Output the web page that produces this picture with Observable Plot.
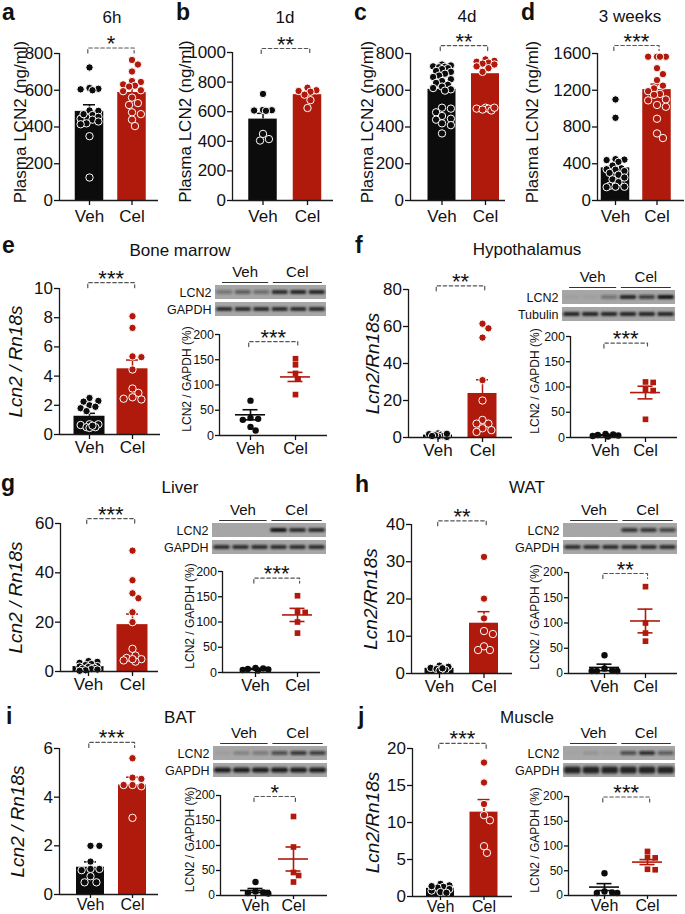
<!DOCTYPE html>
<html><head><meta charset="utf-8">
<script src="https://cdn.jsdelivr.net/npm/d3@7"></script>
<script src="https://cdn.jsdelivr.net/npm/@observablehq/plot@0.6"></script>
<style>
body{margin:0;background:#fff;}
#fig{position:relative;width:685px;height:914px;overflow:hidden;font-family:"Liberation Sans",Arial,sans-serif;color:#111;background:#fff;}
#fig svg{position:absolute;overflow:visible;}
.letter{position:absolute;font-weight:bold;font-size:23px;line-height:1;}
.title{position:absolute;transform:translate(-50%,-50%);font-size:17px;white-space:nowrap;line-height:1;}
</style></head><body><div id="fig"></div>
<script>
// ================= DATA =================
const groups = ["Veh", "Cel"];
const panelTitles = ["6h", "1d", "4d", "3 weeks", "Bone marrow", "Hypothalamus", "Liver", "WAT", "BAT", "Muscle"];
const panelLetters = ["a", "b", "c", "d", "e", "f", "g", "h", "i", "j"];

// a: 6h plasma LCN2 (ng/ml)
const aTicks = [0, 200, 400, 600, 800];
const aVeh = [724, 612, 608, 600, 605, 490, 488, 465, 455, 450, 445, 440, 430, 420, 415, 350, 125, 470];
const aCel = [765, 740, 702, 650, 645, 632, 625, 620, 600, 595, 560, 530, 520, 480, 470, 440, 405];
const aMean = [485, 588], aSem = [36, 25];
// b: 1d
const bTicks = [0, 200, 400, 600, 800, 1000];
const bVeh = [720, 612, 610, 608, 606, 450, 405, 415];
const bCel = [762, 745, 740, 735, 715, 678, 625];
const bMean = [550, 715], bSem = [39, 18];
// c: 4d
const cTicks = [0, 200, 400, 600, 800];
const cVeh = [740, 735, 730, 728, 725, 720, 715, 705, 700, 690, 680, 672, 660, 650, 640, 630, 620, 612, 605, 598, 505, 500, 480, 460, 445, 440, 420, 410, 365];
const cCel = [768, 760, 755, 750, 745, 740, 730, 720, 700, 505, 500, 500, 495, 490, 505];
const cMean = [605, 690], cSem = [18, 25];
// d: 3 weeks
const dTicks = [0, 400, 800, 1200, 1600];
const dVeh = [1100, 900, 445, 440, 450, 420, 380, 350, 340, 335, 320, 300, 280, 250, 230, 200, 160, 150, 150, 145];
const dCel = [1565, 1565, 1565, 1565, 1440, 1375, 1310, 1250, 1220, 1190, 1160, 1150, 1100, 1090, 1040, 1020, 890, 730, 680];
const dMean = [355, 1207], dSem = [50, 60];

// e: bone marrow
const eTicks = [0, 2, 4, 6, 8, 10];
const eVeh = [2.5, 2.3, 2.25, 2.0, 1.9, 1.8, 1.6, 0.7, 0.65, 0.7, 0.5, 0.45, 0.5, 0.6];
const eCel = [8.1, 7.3, 5.35, 5.3, 4.45, 3.15, 2.85, 2.55, 2.45, 2.4];
const eMean = [1.25, 4.5], eSem = [0.2, 0.6];
const dotTicks = [0, 50, 100, 150, 200];
const eWbVeh = [69, 35, 33, 31, 17, 10];
const eWbCel = [152, 140, 123, 112, 81];
const eWbMean = [41, 116], eWbSem = [10, 9];
const eBlotLCN2 = [0.35, 0.5, 0.4, 0.85, 0.9, 0.9];
const eBlotRef = [0.85, 0.85, 0.85, 0.85, 0.85, 0.85];

// f: hypothalamus
const fTicks = [0, 20, 40, 60, 80];
const fVeh = [1.8, 2.2, 1.5, 1.0, 0.6, 0.3, 1.2, 2.0, 0.8];
const fCel = [61.5, 59, 54, 31, 20, 9.5, 7.5, 7.5, 5, 4, 3];
const fMean = [1.3, 23.8], fSem = [0.3, 7.4];
const fWbVeh = [7, 6, 5, 4, 3, 2];
const fWbCel = [110, 109, 95, 93, 36];
const fWbMean = [4.5, 89], fWbSem = [1, 12.5];
const fBlotLCN2 = [0.04, 0.04, 0.35, 0.9, 0.7, 1.0];
const fBlotRef = [0.9, 0.9, 0.9, 0.9, 0.9, 0.9];

// g: liver
const gTicks = [0, 20, 40, 60];
const gVeh = [4.2, 3.9, 3.5, 3.0, 2.6, 2.2, 2.0, 1.8, 1.5, 1.2, 1.0, 0.8, 0.5, 0.3];
const gCel = [49, 37, 31.7, 29.7, 24, 20, 9.2, 6.5, 5.5, 5, 4.5, 4, 5];
const gMean = [2, 19], gSem = [0.35, 4.3];
const gWbVeh = [9, 8, 7, 6, 4, 5];
const gWbCel = [152, 120, 119, 100, 78];
const gWbMean = [7, 114], gWbSem = [1, 13];
const gBlotLCN2 = [0, 0, 0, 1.0, 0.85, 0.85];
const gBlotRef = [0.8, 0.8, 0.8, 0.8, 0.8, 0.8];

// h: WAT
const hTicks = [0, 10, 20, 30, 40];
const hVeh = [2.1, 1.8, 1.5, 1.2, 1.0, 0.8, 1.4];
const hCel = [31.3, 20.1, 14.8, 11.4, 10.6, 7.3, 6.3, 6.3];
const hMean = [1.4, 13.5], hSem = [0.2, 3.1];
const hWbVeh = [36, 10, 5, 5, 5, 6];
const hWbCel = [172, 100, 80, 64];
const hWbMean = [12, 104], hWbSem = [6.5, 23.5];
const hBlotLCN2 = [0, 0, 0, 0.75, 0.75, 0.65];
const hBlotRef = [0.8, 0.8, 0.8, 0.8, 0.8, 0.8];

// i: BAT
const iTicks = [0, 2, 4, 6];
const iVeh = [2.0, 2.0, 1.35, 1.05, 1.0, 0.75, 1.05, 0.5, 0.5];
const iCel = [5.6, 4.8, 4.75, 4.5, 4.5, 4.45, 3.15];
const iMean = [1.12, 4.5], iSem = [0.22, 0.32];
const iWbVeh = [27, 8, 6, 5, 4];
const iWbCel = [158, 97, 46, 40, 27];
const iWbMean = [10, 73], iWbSem = [4, 24];
const iBlotLCN2 = [0.05, 0.2, 0.25, 0.6, 0.75, 0.7];
const iBlotRef = [0.95, 0.95, 0.95, 0.95, 0.95, 0.95];

// j: muscle
const jTicks = [0, 5, 10, 15, 20];
const jVeh = [1.7, 1.5, 1.3, 1.2, 1.0, 0.8, 0.6, 0.5, 1.4];
const jCel = [18.1, 15.4, 12.5, 11, 10.3, 6.8, 5.9];
const jMean = [1.1, 11.4], jSem = [0.15, 1.7];
const jWbVeh = [45, 8, 6, 5, 5];
const jWbCel = [89, 77, 76, 53, 52];
const jWbMean = [17, 67.5], jWbSem = [7, 5];
const jBlotLCN2 = [0.02, 0.1, 0.05, 0.6, 0.8, 0.5];
const jBlotRef = [0.9, 0.9, 0.9, 0.9, 0.9, 0.9];

// significance labels (bar panels a–j, then blot quantification e–j)
const barStars = ["*", "**", "**", "***", "***", "**", "***", "**", "***", "***"];
const wbStars = ["***", "***", "***", "**", "*", "***"];

// ================= RENDERING =================
const FONT = '"Liberation Sans", Arial, sans-serif';
const BLACK = "#0c0c0c", RED = "#b01a0c", AX = "#1a1a1a";
const fig = document.getElementById("fig");

function swarm(vals, pxY, r, maxOff) {
  const order = vals.map((_, i) => i).sort((a, b) => vals[b] - vals[a]);
  const placed = [], off = new Array(vals.length).fill(0);
  const step = r * 0.8, minD = 2 * r * 0.92;
  for (const i of order) {
    const y = vals[i] * pxY;
    let best = 0, bestD = -1;
    for (let k = 0; ; k++) {
      const c = k === 0 ? 0 : (k % 2 ? 1 : -1) * Math.ceil(k / 2) * step;
      if (Math.abs(c) > maxOff) break;
      const d = placed.reduce((m, p) => Math.min(m, Math.hypot(p.x - c, p.y - y)), Infinity);
      if (d >= minD) { best = c; bestD = d; break; }
      if (d > bestD) { best = c; bestD = d; }
    }
    placed.push({x: best, y});
    off[i] = best;
  }
  return off;
}

function chart(p) {
  const isDot = p.kind === "dot";
  const yMax = p.ticks[p.ticks.length - 1];
  const unit = p.cC - p.cV;
  const xDom = [(p.axisX - p.cV) / unit, (p.xEnd - p.cV) / unit];
  const pxY = (p.y0 - p.yTop) / yMax;
  const left = Math.floor(p.labelX - 14), right = p.xEnd + 4;
  const top = p.yTop - 48, bottom = p.y0 + 30;
  const r = isDot ? 3.2 : 3.7;
  const col = g => g === 0 ? BLACK : RED;
  const stats = p.means.map((m, g) => ({g, m, s: p.sems[g]}));
  const marks = [];
  if (!isDot) {
    const hw = p.barW / 2 / unit, cap = 6 / unit;
    stats.forEach(st => {
      const c = col(st.g);
      marks.push(Plot.rect([st], {x1: d => d.g - hw, x2: d => d.g + hw, y1: 0, y2: "m", fill: c}));
      marks.push(Plot.ruleX([st], {x: "g", y1: "m", y2: d => d.m + d.s, stroke: c, strokeWidth: 1.5}));
      marks.push(Plot.ruleY([st], {y: d => d.m + d.s, x1: d => d.g - cap, x2: d => d.g + cap, stroke: c, strokeWidth: 1.5}));
    });
  }
  p.vals.forEach((arr, g) => {
    const off = swarm(arr, pxY, r, isDot ? 15 : p.barW / 2 - r);
    const pts = arr.map((v, k) => ({v, x: g + off[k] / unit}));
    marks.push(Plot.dot(pts, {x: "x", y: "v", r, fill: col(g),
      stroke: isDot ? "none" : "white", strokeWidth: 1,
      symbol: isDot && g === 1 ? "square" : "circle"}));
  });
  if (isDot) {
    const mw = 15 / unit, cw = 7.5 / unit;
    stats.forEach(st => {
      const c = col(st.g);
      marks.push(Plot.ruleY([st], {y: "m", x1: d => d.g - mw, x2: d => d.g + mw, stroke: c, strokeWidth: 1.6}));
      marks.push(Plot.ruleX([st], {x: "g", y1: d => Math.max(0, d.m - d.s), y2: d => d.m + d.s, stroke: c, strokeWidth: 1.6}));
      marks.push(Plot.ruleY([st, st], {y: (d, i) => i ? d.m + d.s : Math.max(0, d.m - d.s), x1: d => d.g - cw, x2: d => d.g + cw, stroke: c, strokeWidth: 1.6}));
    });
  }
  // axes
  marks.push(Plot.ruleY([0], {stroke: AX, strokeWidth: 1.3}));
  marks.push(Plot.ruleX([xDom[0]], {y1: 0, y2: yMax, stroke: AX, strokeWidth: 1.3}));
  marks.push(Plot.axisY({ticks: p.ticks, tickFormat: d => String(d), tickSize: isDot ? 4 : 5, tickPadding: 1.5,
    fontSize: p.tickFont || (isDot ? 12.5 : 17), label: null, strokeWidth: 1.3}));
  marks.push(Plot.axisX({ticks: [0, 1], tickFormat: i => groups[i], tickSize: p.catTick || 5, tickPadding: p.catPad,
    fontSize: p.catFont || (isDot ? 16.5 : 17), label: null, strokeWidth: 1.3}));
  marks.push(Plot.text([p.label], {frameAnchor: "left", textAnchor: "middle", dx: p.labelX - p.axisX, dy: p.labelDy || 0, rotate: -90,
    fontSize: p.labelSize, fontStyle: p.italic ? "italic" : "normal", text: d => d}));
  // significance bracket
  const t = 5 / pxY, bx0 = -0.04, bx1 = 1.05;
  const br = [{x: bx0, y: p.bracket - t}, {x: bx0, y: p.bracket}, {x: bx1, y: p.bracket}, {x: bx1, y: p.bracket - t}];
  marks.push(Plot.line(br, {x: "x", y: "y", stroke: "#555", strokeWidth: 1.2, strokeDasharray: "3.5,2.5"}));
  marks.push(Plot.text([p.stars], {x: (bx0 + bx1) / 2, y: p.bracket, text: d => d, dy: -4, fontSize: 22}));

  const svg = Plot.plot({
    width: right - left, height: bottom - top,
    marginLeft: p.axisX - left, marginRight: right - p.xEnd,
    marginTop: p.yTop - top, marginBottom: bottom - p.y0,
    x: {domain: xDom}, y: {domain: [0, yMax]},
    style: {fontFamily: FONT, color: "#111", background: "none", overflow: "visible"},
    marks
  });
  svg.style.left = left + "px"; svg.style.top = top + "px";
  fig.appendChild(svg);
}

let blotId = 0;
function blot(b) {
  const left = b.x0 - 62, top = b.bottom - 50, right = b.x1 + 2, bottom = b.bottom + 2;
  const n = b.rows[0].lanes.length, half = n / 2;
  const names = b.rows.map(r => r.name);
  const marks = [Plot.barX(names, {x1: 0, x2: n, y: d => d, fill: "#a6a6a6"})];
  b.rows.forEach(row => {
    const data = row.lanes.map((a, lane) => ({lane, a, name: row.name}));
    marks.push(Plot.barX(data, {x1: d => d.lane + 0.06, x2: d => d.lane + 0.94, y: "name",
      fill: "#141414", fillOpacity: "a", insetTop: row.inset, insetBottom: row.inset, rx: 2}));
  });
  marks.push(Plot.text(names, {x: 0, y: d => d, text: d => d, textAnchor: "end", dx: -4, fontSize: 12.5}));
  const hdr = groups.map((name, g) => ({name, a: g * half + (g ? 0.1 : 0.35), b: (g + 1) * half - (g ? 0.25 : 0.15)}));
  marks.push(Plot.text(hdr, {x: d => (d.a + d.b) / 2, y: () => "hdr", text: "name", dy: -3, fontSize: 15}));
  marks.push(Plot.link(hdr, {x1: "a", x2: "b", y1: () => "hdr", y2: () => "hdr", dy: 7, stroke: "#333", strokeWidth: 1.1}));
  const svg = Plot.plot({
    width: right - left, height: bottom - top,
    marginLeft: b.x0 - left, marginRight: right - b.x1, marginTop: 2, marginBottom: 2,
    x: {domain: [0, n], axis: null},
    y: {type: "band", domain: ["hdr", ...names], paddingInner: 0.2, paddingOuter: 0, axis: null},
    opacity: {type: "identity"},
    style: {fontFamily: FONT, color: "#111", background: "none", overflow: "visible"},
    marks
  });
  const id = "blur" + (blotId++);
  const s = d3.select(svg);
  const f = s.insert("defs", ":first-child").append("filter").attr("id", id)
    .attr("x", "-20%").attr("y", "-150%").attr("width", "140%").attr("height", "400%");
  f.append("feGaussianBlur").attr("stdDeviation", 0.8);
  s.selectAll("rect[fill-opacity]").attr("filter", `url(#${id})`);
  svg.style.left = left + "px"; svg.style.top = top + "px";
  fig.appendChild(svg);
}

// ---- layout (pixel geometry only) ----
const plasma = "Plasma LCN2 (ng/ml)", ratioIt = "Lcn2 / Rn18s", ratioIt2 = "Lcn2/Rn18s", wbLab = "LCN2 / GAPDH (%)";
const BAR = (o) => Object.assign({kind: "bar", labelSize: 17, catPad: 1}, o);
const DOT = (o) => Object.assign({kind: "dot", labelSize: 12, catPad: 2, label: wbLab, labelDy: -6}, o);
const LAST = {catPad: 0, catTick: 4, catFont: 16};

[
  BAR({vals: [aVeh, aCel], means: aMean, sems: aSem, ticks: aTicks, stars: barStars[0], bracket: 830, label: plasma, axisX: 59, xEnd: 158, y0: 200, yTop: 53, cV: 89, cC: 131.5, barW: 28.5, labelX: 20, catPad: 4, labelDy: -5}),
  BAR({vals: [bVeh, bCel], means: bMean, sems: bSem, ticks: bTicks, stars: barStars[1], bracket: 1027, label: plasma, axisX: 232, xEnd: 333, y0: 200, yTop: 52, cV: 262.5, cC: 307, barW: 28.5, labelX: 185, catPad: 4, labelDy: -5}),
  BAR({vals: [cVeh, cCel], means: cMean, sems: cSem, ticks: cTicks, stars: barStars[2], bracket: 843, label: plasma, axisX: 410, xEnd: 505, y0: 200, yTop: 53, cV: 441.5, cC: 485, barW: 28, labelX: 367, catPad: 4, labelDy: -5}),
  BAR({vals: [dVeh, dCel], means: dMean, sems: dSem, ticks: dTicks, stars: barStars[3], bracket: 1687, label: plasma, axisX: 597, xEnd: 684, y0: 200, yTop: 53, cV: 615, cC: 656.5, barW: 28.5, labelX: 532, catPad: 4, labelDy: -5}),
  BAR({vals: [eVeh, eCel], means: eMean, sems: eSem, ticks: eTicks, stars: barStars[4], bracket: 10.4, label: ratioIt, italic: true, labelSize: 19, axisX: 59, xEnd: 160, y0: 434, yTop: 288, cV: 89, cC: 132, barW: 31, labelX: 15}),
  DOT({vals: [eWbVeh, eWbCel], means: eWbMean, sems: eWbSem, ticks: dotTicks, stars: wbStars[0], bracket: 186, axisX: 219, xEnd: 327, y0: 435, yTop: 334, cV: 250, cC: 295, labelX: 187}),
  BAR({vals: [fVeh, fCel], means: fMean, sems: fSem, ticks: fTicks, stars: barStars[5], bracket: 82, label: ratioIt2, italic: true, labelSize: 19, axisX: 408, xEnd: 512, y0: 437, yTop: 289, cV: 437.5, cC: 482, barW: 29, labelX: 372}),
  DOT({vals: [fWbVeh, fWbCel], means: fWbMean, sems: fWbSem, ticks: dotTicks, stars: wbStars[1], bracket: 187, axisX: 570, xEnd: 677, y0: 437, yTop: 336, cV: 605, cC: 645, labelX: 535}),
  BAR({vals: [gVeh, gCel], means: gMean, sems: gSem, ticks: gTicks, stars: barStars[6], bracket: 62, label: ratioIt, italic: true, labelSize: 19, axisX: 60, xEnd: 158, y0: 671, yTop: 523, cV: 88, cC: 132, barW: 31, labelX: 15}),
  DOT({vals: [gWbVeh, gWbCel], means: gWbMean, sems: gWbSem, ticks: dotTicks, stars: wbStars[2], bracket: 187, axisX: 222, xEnd: 320, y0: 672, yTop: 571, cV: 255, cC: 297, labelX: 190}),
  BAR({vals: [hVeh, hCel], means: hMean, sems: hSem, ticks: hTicks, stars: barStars[7], bracket: 41, label: ratioIt2, italic: true, labelSize: 19, axisX: 411, xEnd: 512, y0: 673, yTop: 524, cV: 439, cC: 483.5, barW: 29, labelX: 370}),
  DOT({vals: [hWbVeh, hWbCel], means: hWbMean, sems: hWbSem, ticks: dotTicks, stars: wbStars[3], bracket: 198, axisX: 568, xEnd: 677, y0: 673, yTop: 572, cV: 604, cC: 645, labelX: 535, tickFont: 12}),
  BAR(Object.assign({vals: [iVeh, iCel], means: iMean, sems: iSem, ticks: iTicks, stars: barStars[8], bracket: 6.25, label: ratioIt, italic: true, labelSize: 19, axisX: 59, xEnd: 158, y0: 894, yTop: 748, cV: 90, cC: 132, barW: 28, labelX: 17}, LAST)),
  DOT(Object.assign({vals: [iWbVeh, iWbCel], means: iWbMean, sems: iWbSem, ticks: dotTicks, stars: wbStars[4], bracket: 198, axisX: 220, xEnd: 327, y0: 895, yTop: 795, cV: 255, cC: 293, labelX: 190, tickFont: 12}, LAST)),
  BAR(Object.assign({vals: [jVeh, jCel], means: jMean, sems: jSem, ticks: jTicks, stars: barStars[9], bracket: 20.7, label: ratioIt2, italic: true, labelSize: 19, axisX: 412, xEnd: 512, y0: 896, yTop: 748, cV: 440, cC: 483.5, barW: 28, labelX: 372}, LAST)),
  DOT(Object.assign({vals: [jWbVeh, jWbCel], means: jWbMean, sems: jWbSem, ticks: dotTicks, stars: wbStars[5], bracket: 199, axisX: 568, xEnd: 677, y0: 895, yTop: 796, cV: 604, cC: 647, labelX: 535, tickFont: 12}, LAST)),
].forEach(chart);

[
  {x0: 215, x1: 326, bottom: 316, rows: [{name: "LCN2", lanes: eBlotLCN2, inset: 5}, {name: "GAPDH", lanes: eBlotRef, inset: 5}]},
  {x0: 562, x1: 675, bottom: 321, rows: [{name: "LCN2", lanes: fBlotLCN2, inset: 5}, {name: "Tubulin", lanes: fBlotRef, inset: 5}]},
  {x0: 212, x1: 326, bottom: 554, rows: [{name: "LCN2", lanes: gBlotLCN2, inset: 5}, {name: "GAPDH", lanes: gBlotRef, inset: 5}]},
  {x0: 563, x1: 677, bottom: 554, rows: [{name: "LCN2", lanes: hBlotLCN2, inset: 5}, {name: "GAPDH", lanes: hBlotRef, inset: 5}]},
  {x0: 213, x1: 327, bottom: 777, rows: [{name: "LCN2", lanes: iBlotLCN2, inset: 5}, {name: "GAPDH", lanes: iBlotRef, inset: 4.5}]},
  {x0: 563, x1: 675, bottom: 777, rows: [{name: "LCN2", lanes: jBlotLCN2, inset: 5}, {name: "GAPDH", lanes: jBlotRef, inset: 3.5}]},
].forEach(blot);

// panel letters and titles
const letterPos = [[2, 1], [176, 1], [354, 1], [521, 1], [2, 234], [355, 234], [1, 472], [355, 473], [6, 705], [358, 705]];
const titlePos = [[112, 17], [285, 17], [467, 16], [630, 16], [180, 250], [527, 249], [180, 487], [527, 487], [180, 717], [527, 717]];
panelLetters.forEach((L, k) => {
  const d = document.createElement("div");
  d.className = "letter"; d.textContent = L;
  d.style.left = letterPos[k][0] + "px"; d.style.top = letterPos[k][1] + "px";
  fig.appendChild(d);
  const t = document.createElement("div");
  t.className = "title"; t.textContent = panelTitles[k];
  t.style.left = titlePos[k][0] + "px"; t.style.top = titlePos[k][1] + "px";
  fig.appendChild(t);
});
</script></body></html>
